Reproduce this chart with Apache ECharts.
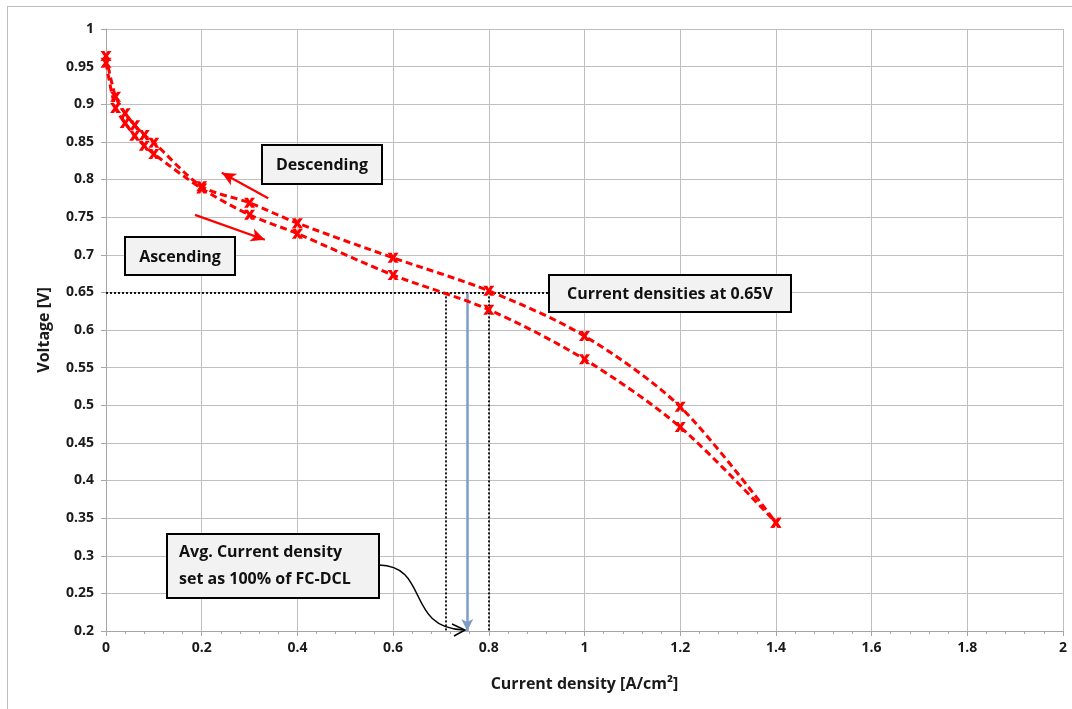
<!DOCTYPE html>
<html>
<head>
<meta charset="utf-8">
<script src="https://cdn.jsdelivr.net/npm/echarts@6/dist/echarts.min.js"></script>
<style>
html,body{margin:0;padding:0;background:#fff;}
#frame{position:absolute;left:7px;top:6px;width:1080px;height:720px;border-left:1px solid #bfbfbf;border-top:1px solid #bfbfbf;}
#chart{position:absolute;left:0;top:0;width:1072px;height:709px;}
</style>
</head>
<body>
<div id="frame"></div>
<div id="chart"></div>
<script>
// Data
var currentDensity = [0, 0.02, 0.04, 0.06, 0.08, 0.1, 0.2, 0.3, 0.4, 0.6, 0.8, 1.0, 1.2, 1.4];
var voltageDescending = [0.964, 0.910, 0.888, 0.872, 0.859, 0.849, 0.791, 0.769, 0.742, 0.696, 0.652, 0.592, 0.498, 0.344];
var voltageAscending  = [0.955, 0.895, 0.875, 0.858, 0.845, 0.834, 0.788, 0.753, 0.728, 0.673, 0.627, 0.561, 0.471, 0.344];
var refVoltage = 0.65;
var crossingLow = 0.71;
var crossingHigh = 0.80;
var avgCurrent = 0.755;
var xTicks = [0, 0.2, 0.4, 0.6, 0.8, 1, 1.2, 1.4, 1.6, 1.8, 2];
var yTicks = [0.2, 0.25, 0.3, 0.35, 0.4, 0.45, 0.5, 0.55, 0.6, 0.65, 0.7, 0.75, 0.8, 0.85, 0.9, 0.95, 1];

function pairs(xs, ys){ return xs.map(function(x,i){ return [x, ys[i]]; }); }

var xSym = 'path://M0,0 L3.6,0 L5,2.6 L6.4,0 L10,0 L6.8,5 L10,10 L6.4,10 L5,7.4 L3.6,10 L0,10 L3.2,5 Z';
var FONT = '"Open Sans", "Noto Sans", sans-serif';

var chart = echarts.init(document.getElementById('chart'), null, {renderer:'canvas'});

var lineSeries = function(name, ys){
  return {
    name: name, type: 'line', smooth: 0.3,
    data: pairs(currentDensity, ys),
    symbol: xSym, symbolSize: [11, 10],
    itemStyle: {color: '#ff0000'},
    lineStyle: {color: '#ff0000', width: 3, type: [7, 4]},
    z: 5
  };
};

function box(left, top, w, h, lines, align){
  var kids = [{type: 'rect', z: 100, shape: {x: 0, y: 0, width: w, height: h},
    style: {fill: '#f2f2f2', stroke: '#000', lineWidth: 2}}];
  var n = lines.length;
  lines.forEach(function(t, i){
    kids.push({type: 'text', z: 101, style: {
      x: align === 'left' ? 12 : w / 2,
      y: n === 1 ? h / 2 + 1 : 18 + i * 27,
      text: t, align: align || 'center', verticalAlign: 'middle',
      font: 'bold 16px ' + FONT, fill: '#111'}});
  });
  return {type: 'group', left: left, top: top, z: 100, children: kids};
}

var option = {
  animation: false,
  backgroundColor: 'transparent',
  grid: {left: 106, right: 9, top: 29, bottom: 78, containLabel: false},
  xAxis: {
    type: 'value', min: 0, max: 2, interval: 0.2,
    name: 'Current density [A/cm²]', nameLocation: 'middle', nameGap: 45,
    nameTextStyle: {fontFamily: FONT, fontWeight: 'bold', fontSize: 16, color: '#1a1a1a'},
    axisLine: {lineStyle: {color: '#a6a6a6', width: 1}},
    axisTick: {show: true, length: 5, lineStyle: {color: '#a6a6a6'}},
    minorTick: {show: true, splitNumber: 5, length: 3, lineStyle: {color: '#a6a6a6'}},
    splitLine: {show: true, lineStyle: {color: '#bfbfbf', width: 1}},
    axisLabel: {fontFamily: FONT, fontWeight: 'bold', fontSize: 14, color: '#1a1a1a', margin: 10,
      formatter: function(v){ return String(Math.round(v*10)/10); }}
  },
  yAxis: {
    type: 'value', min: 0.2, max: 1, interval: 0.05,
    name: 'Voltage [V]', nameLocation: 'middle', nameGap: 54, nameRotate: 90,
    nameTextStyle: {fontFamily: FONT, fontWeight: 'bold', fontSize: 16, color: '#1a1a1a'},
    axisLine: {show: true, lineStyle: {color: '#a6a6a6', width: 1}},
    axisTick: {show: true, length: 5, lineStyle: {color: '#a6a6a6'}},
    splitLine: {show: true, lineStyle: {color: '#bfbfbf', width: 1}},
    axisLabel: {fontFamily: FONT, fontWeight: 'bold', fontSize: 14, color: '#1a1a1a', margin: 12,
      formatter: function(v){ return String(Math.round(v*100)/100); }}
  },
  series: [
    lineSeries('Descending', voltageDescending),
    lineSeries('Ascending', voltageAscending),
    {
      type: 'line', data: [], silent: true,
      markLine: {
        silent: true, animation: false, label: {show: false},
        symbol: ['none', 'none'],
        lineStyle: {color: '#000', type: [2, 2], width: 1.8},
        data: [
          [{coord: [0, refVoltage]}, {coord: [0.925, refVoltage]}],
          [{coord: [crossingLow, refVoltage]}, {coord: [crossingLow, 0.2]}],
          [{coord: [crossingHigh, refVoltage]}, {coord: [crossingHigh, 0.2]}],
          [{coord: [avgCurrent, 0.649], symbol: 'none', lineStyle: {color: '#7f9cc8', type: 'solid', width: 2.5}},
           {coord: [avgCurrent, 0.2], symbol: 'arrow', symbolSize: [9, 12]}],
          [{coord: [0.339, 0.775], symbol: 'none', lineStyle: {color: '#ff0000', type: 'solid', width: 2.2}},
           {coord: [0.242, 0.809], symbol: 'arrow', symbolSize: [10, 14]}],
          [{coord: [0.186, 0.753], symbol: 'none', lineStyle: {color: '#ff0000', type: 'solid', width: 2.2}},
           {coord: [0.332, 0.720], symbol: 'arrow', symbolSize: [10, 14]}]
        ]
      }
    }
  ],
  graphic: {
    z: 100,
    elements: [
      box(261, 144, 120, 39, ['Descending']),
      box(124, 236, 110, 38, ['Ascending']),
      box(548, 274, 242, 37, ['Current densities at 0.65V']),
      box(166, 533, 212, 64, ['Avg. Current density', 'set as 100% of FC-DCL'], 'left'),
      {type: 'bezierCurve', z: 90, shape: {x1: 379, y1: 565, cpx1: 430, cpy1: 566, cpx2: 405, cpy2: 628, x2: 464, y2: 630},
        style: {stroke: '#000', lineWidth: 1.5, fill: null}},
      {type: 'polyline', z: 90, shape: {points: [[452, 624], [465, 630], [454, 636]]},
        style: {stroke: '#000', lineWidth: 1.5, fill: null}}
    ]
  }
};
chart.setOption(option);
</script>
</body>
</html>
